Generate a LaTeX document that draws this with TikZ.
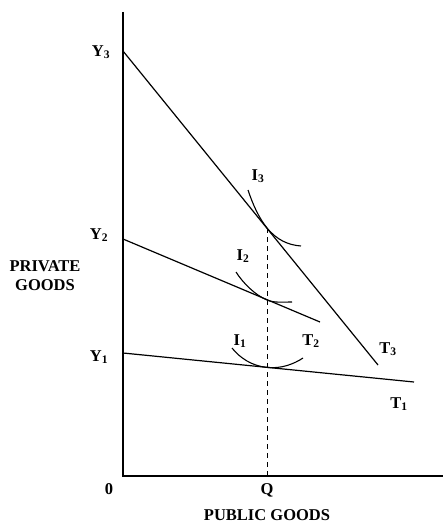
\documentclass[tikz,border=0pt]{standalone}
\usepackage{fontspec}
\setmainfont{Liberation Serif}
\begin{document}
\begin{tikzpicture}[x=1pt,y=-1pt,
  lab/.style={font=\bfseries\fontsize{16.5}{19}\selectfont, inner sep=0pt},
  axis/.style={line width=1.8pt, line cap=butt},
  budget/.style={line width=1.2pt},
  indiff/.style={line width=1.1pt},
  guide/.style={line width=0.9pt, dash pattern=on 5pt off 4pt}]
\useasboundingbox (0,0) rectangle (443,524);
% axes
\coordinate (top) at (123,12);
\coordinate (O) at (123,476);
\coordinate (xend) at (443,476);
\draw[axis] (top) -- (O) -- (xend);
% budget lines
\coordinate (Y3) at (123,51);
\coordinate (Y2) at (123,239);
\coordinate (Y1) at (123,353);
\coordinate (T3e) at (378,365);
\coordinate (T2e) at (320,322);
\coordinate (T1e) at (414,382);
\draw[budget] (Y3) -- (T3e);
\draw[budget] (Y2) -- (T2e);
\draw[budget] (Y1) -- (T1e);
% tangency points
\coordinate (E3) at (267,228);
\coordinate (E2) at (267,300);
\coordinate (E1) at (267,367.4);
\coordinate (Q) at (267,476);
\draw[guide] (E3) -- (Q);
% indifference curves
\coordinate (I3s) at (248,190);
\coordinate (I3e) at (301,246);
\coordinate (I2s) at (236,272);
\coordinate (I2e) at (292,302);
\coordinate (I1s) at (232,348);
\coordinate (I1e) at (303,358);
\draw[indiff] (I3s) .. controls (253,205) and (259,218) .. (E3) .. controls (277,240) and (288,245) .. (I3e);
\draw[indiff] (I2s) .. controls (243,283) and (255,295) .. (E2) .. controls (274,303) and (283,302) .. (I2e);
\draw[indiff] (I1s) .. controls (240,358) and (252,366) .. (E1) .. controls (281,369) and (294,364) .. (I1e);
% labels
\node[lab] (lY3) at (101,52) {Y\textsubscript{3}};
\node[lab] (lY2) at (99,235) {Y\textsubscript{2}};
\node[lab] (lY1) at (99,357) {Y\textsubscript{1}};
\node[lab, align=center] (lpriv) at (45,276) {PRIVATE\\GOODS};
\node[lab] (l0) at (109,489) {0};
\node[lab] (lQ) at (267,490) {Q};
\node[lab] (lpub) at (267,515) {PUBLIC GOODS};
\node[lab] (lI3) at (258,176) {I\textsubscript{3}};
\node[lab] (lI2) at (243,256) {I\textsubscript{2}};
\node[lab] (lI1) at (240,341) {I\textsubscript{1}};
\node[lab] (lT2) at (311,341) {T\textsubscript{2}};
\node[lab] (lT3) at (388,349) {T\textsubscript{3}};
\node[lab] (lT1) at (399,404) {T\textsubscript{1}};
\end{tikzpicture}
\end{document}
